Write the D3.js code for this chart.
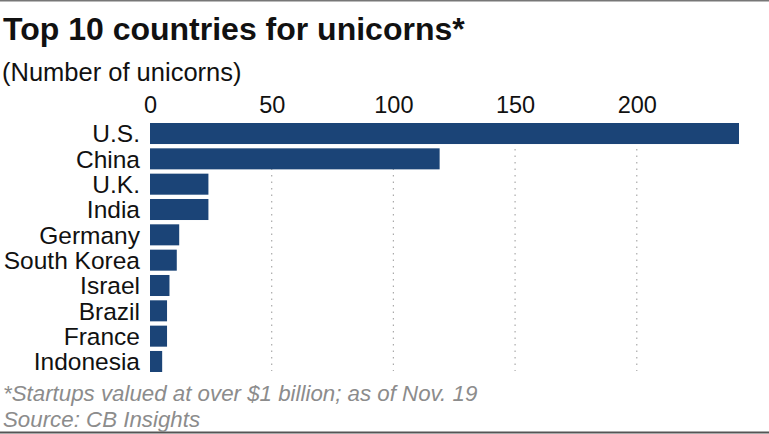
<!DOCTYPE html>
<html>
<head>
<meta charset="utf-8">
<script src="https://cdn.jsdelivr.net/npm/d3@7"></script>
<style>
  html, body { margin: 0; padding: 0; background: #fff; }
  svg { display: block; font-family: "Liberation Sans", Arial, sans-serif; }
</style>
</head>
<body>
<svg id="chart" width="769" height="434"></svg>
<script>
const categories = ["U.S.", "China", "U.K.", "India", "Germany", "South Korea", "Israel", "Brazil", "France", "Indonesia"];
const values = [242, 119, 24, 24, 12, 11, 8, 7, 7, 5];
const tickValues = [0, 50, 100, 150, 200];
const titleText = "Top 10 countries for unicorns*";
const subtitleText = "(Number of unicorns)";
const footnoteText = "*Startups valued at over $1 billion; as of Nov. 19";
const sourceText = "Source: CB Insights";

const svg = d3.select("#chart");
const W = 769, H = 434;

const x = d3.scaleLinear().domain([0, 242]).range([150, 739]);
const y = d3.scaleBand().domain(categories).range([123, 372]).paddingInner(0.17).paddingOuter(0);

// top & bottom rules
svg.append("line").attr("x1", 0).attr("x2", W).attr("y1", 0.75).attr("y2", 0.75)
  .attr("stroke", "#777").attr("stroke-width", 1.5);
svg.append("line").attr("x1", 0).attr("x2", W).attr("y1", 432.5).attr("y2", 432.5)
  .attr("stroke", "#555").attr("stroke-width", 2);

// title
svg.append("text").attr("x", 3).attr("y", 39.5).attr("font-size", 32).attr("font-weight", "bold")
  .attr("fill", "#111").text(titleText);
svg.append("text").attr("x", 2).attr("y", 81).attr("font-size", 25.5).attr("fill", "#111").text(subtitleText);

// gridlines
svg.append("g").selectAll("line").data(tickValues.filter(d => d > 0)).join("line")
  .attr("x1", d => x(d)).attr("x2", d => x(d))
  .attr("y1", 123).attr("y2", 371)
  .attr("stroke", "#aaa").attr("stroke-width", 1.2).attr("stroke-dasharray", "1.5,5");

// top axis labels
const axis = d3.axisTop(x).tickValues(tickValues).tickSize(0).tickPadding(0).tickFormat(d3.format("d"));
const ax = svg.append("g").attr("transform", "translate(0,113)").call(axis);
ax.select(".domain").remove();
ax.selectAll("text").attr("font-size", 23.5).attr("fill", "#111")
  .attr("font-family", "Liberation Sans, Arial, sans-serif").attr("dy", 0);

// bars
svg.append("g").selectAll("rect").data(values).join("rect")
  .attr("x", x(0))
  .attr("y", (d, i) => y(categories[i]))
  .attr("width", d => x(d) - x(0))
  .attr("height", y.bandwidth())
  .attr("fill", "#1b4477");

// category labels
svg.append("g").selectAll("text").data(categories).join("text")
  .attr("x", 140)
  .attr("y", d => y(d) + y.bandwidth() / 2)
  .attr("dy", "0.36em")
  .attr("text-anchor", "end")
  .attr("font-size", 24.5)
  .attr("fill", "#111")
  .text(d => d);

// footnotes
svg.append("text").attr("x", 3).attr("y", 401).attr("font-size", 22.3).attr("font-style", "italic")
  .attr("fill", "#8c8c8c").text(footnoteText);
svg.append("text").attr("x", 3).attr("y", 427).attr("font-size", 22.3).attr("font-style", "italic")
  .attr("fill", "#8c8c8c").text(sourceText);
</script>
</body>
</html>
